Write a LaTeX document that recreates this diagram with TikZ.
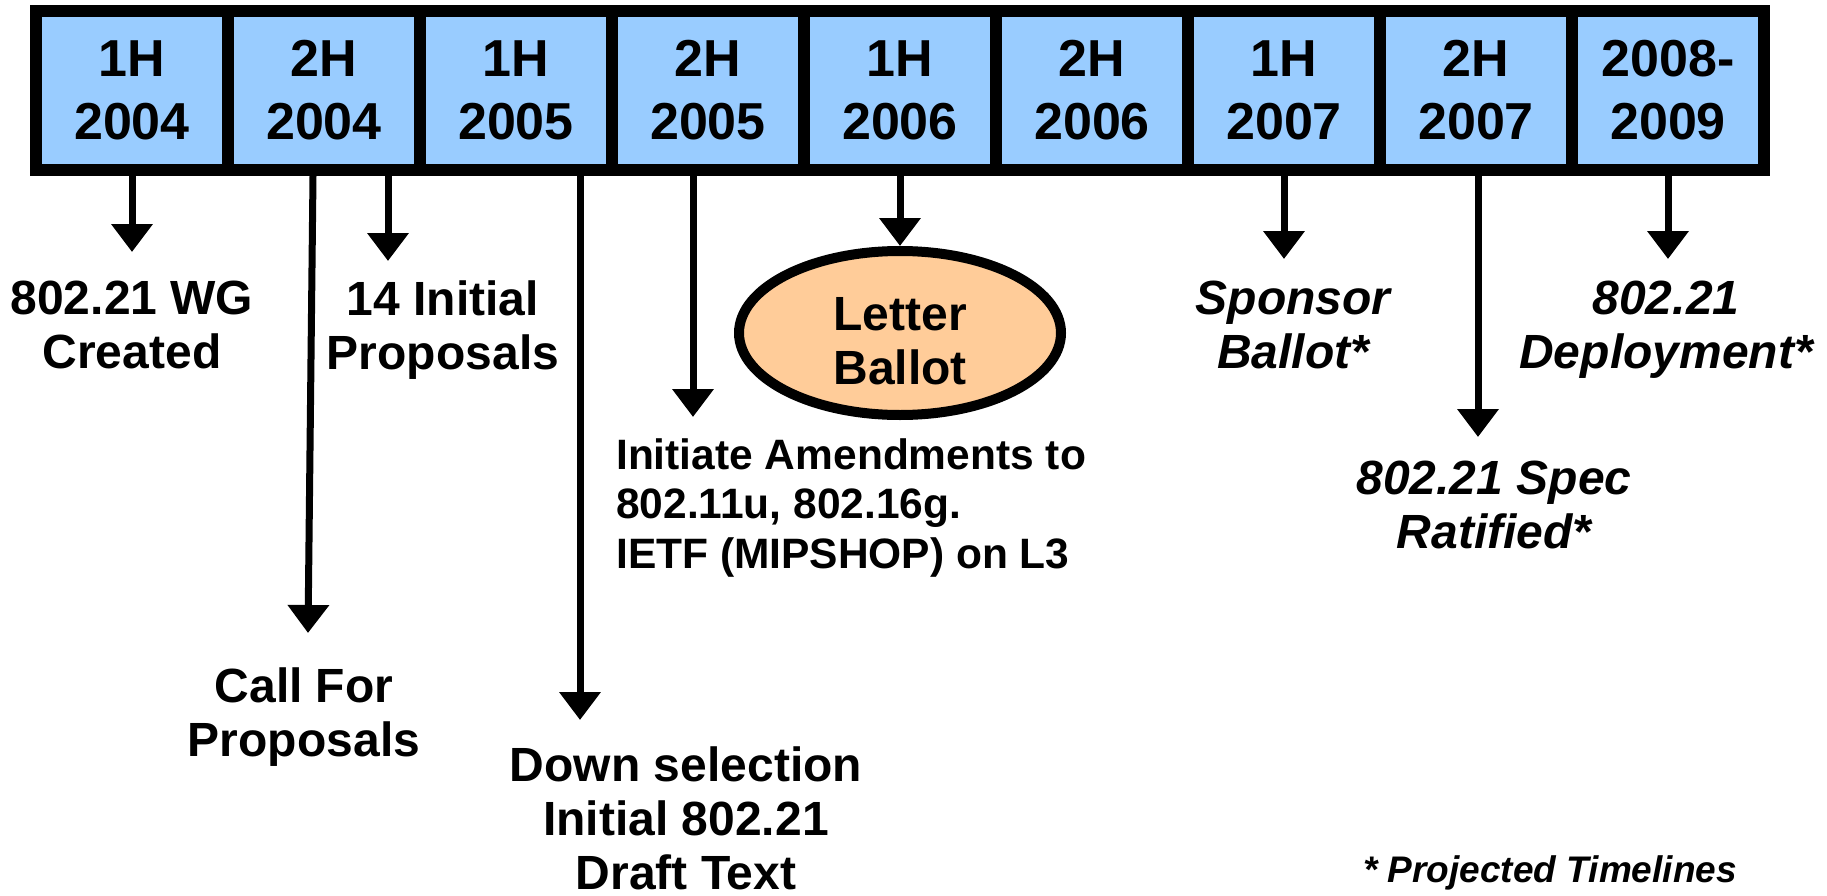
\documentclass[tikz,border=0pt]{standalone}
\usepackage{fontspec}
\setmainfont{Liberation Sans}
\usetikzlibrary{arrows.meta,shapes.geometric}

\definecolor{cellblue}{HTML}{99CCFF}
\definecolor{ballotfill}{HTML}{FFCC99}

\tikzset{
  cell/.style={draw, line width=12pt, fill=cellblue, minimum width=192pt,
    minimum height=159pt, inner sep=0pt, align=center,
    font=\bfseries\fontsize{52}{63}\selectfont},
  evtext/.style={align=center, inner sep=0pt,
    font=\bfseries\fontsize{48}{54}\selectfont},
  evital/.style={align=center, inner sep=0pt,
    font=\bfseries\itshape\fontsize{48}{54}\selectfont},
  amendtext/.style={align=left, inner sep=0pt, anchor=west,
    font=\bfseries\fontsize{42.5}{49.5}\selectfont},
  notetext/.style={inner sep=0pt,
    font=\bfseries\itshape\fontsize{37}{44}\selectfont},
  ballot/.style={ellipse, draw, line width=10pt, fill=ballotfill,
    minimum width=322pt, minimum height=164pt, inner sep=0pt, align=center,
    font=\bfseries\fontsize{48}{54}\selectfont},
  downarrow/.style={-{Triangle[width=40pt,length=28pt]}, line width=7pt},
}

\begin{document}
\begin{tikzpicture}[x=1pt,y=-1pt]
  \useasboundingbox (0,0) rectangle (1827,896);

  % timeline bar of half-year cells
  \node[cell] (c1) at (132,90.5) {1H\\2004};
  \node[cell] (c2) at (324,90.5) {2H\\2004};
  \node[cell] (c3) at (516,90.5) {1H\\2005};
  \node[cell] (c4) at (708,90.5) {2H\\2005};
  \node[cell] (c5) at (900,90.5) {1H\\2006};
  \node[cell] (c6) at (1092,90.5) {2H\\2006};
  \node[cell] (c7) at (1284,90.5) {1H\\2007};
  \node[cell] (c8) at (1476,90.5) {2H\\2007};
  \node[cell] (c9) at (1668,90.5) {2008-\\2009};

  % milestones
  \node[evtext] (wg) at (132,325) {802.21 WG\\Created};
  \node[evtext] (init14) at (443,330) {14 Initial\\Proposals};
  \node[evtext] (cfp) at (304,717) {Call For\\Proposals};
  \node[evtext] (downsel) at (686,818) {Down selection\\Initial 802.21\\Draft Text};
  \node[amendtext] (amend) at (616,508) {Initiate Amendments to\\802.11u, 802.16g.\\IETF (MIPSHOP) on L3};
  % the strut lowers the two lines a little inside the ellipse
  \node[ballot] (lb) at (900,333) {\rule{0pt}{50pt}Letter\\Ballot};
  \node[evital] (sb) at (1293,325) {Sponsor\\Ballot*};
  \node[evital] (rat) at (1494,505) {802.21 Spec\\Ratified*};
  \node[evital] (dep) at (1666,330) {802.21\\Deployment*};
  \node[notetext] (proj) at (1550,873) {* Projected Timelines};

  % arrow ends
  \coordinate (tipWG) at (132,252);
  \coordinate (tipCFP) at (308,633);
  \coordinate (tipInit) at (388,261);
  \coordinate (tipDown) at (580,720);
  \coordinate (tipAmend) at (693,417);
  \coordinate (tipSB) at (1284,259);
  \coordinate (tipRat) at (1478,437);
  \coordinate (tipDep) at (1668,259);

  % arrows from the bar
  \draw[downarrow] (c1.south) -- (tipWG);
  \draw[downarrow] ([xshift=-11pt]c2.south) -- (tipCFP);
  \draw[downarrow] ([xshift=64pt]c2.south) -- (tipInit);
  \draw[downarrow] ([xshift=64pt]c3.south) -- (tipDown);
  \draw[downarrow] ([xshift=-15pt]c4.south) -- (tipAmend);
  \draw[downarrow] (c5.south) -- (lb.north);
  \draw[downarrow] (c7.south) -- (tipSB);
  \draw[downarrow] ([xshift=2pt]c8.south) -- (tipRat);
  \draw[downarrow] (c9.south) -- (tipDep);
\end{tikzpicture}
\end{document}
